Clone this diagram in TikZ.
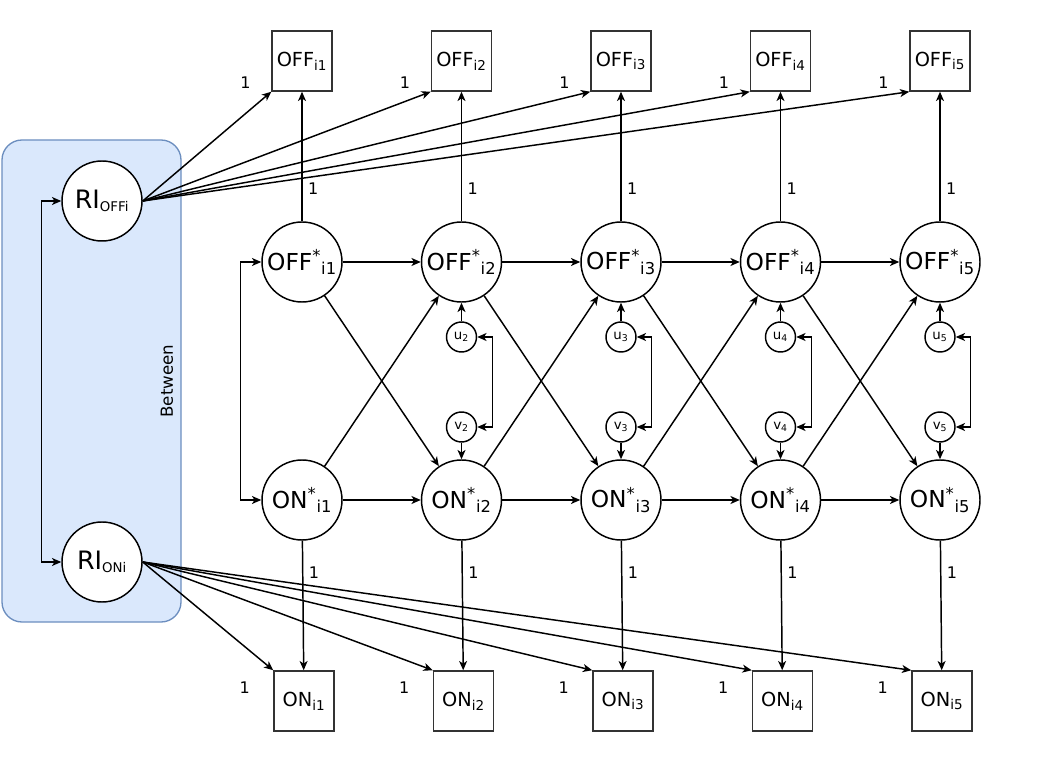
\documentclass[tikz,border=0pt]{standalone}
\usepackage{fontspec}
\setmainfont{DejaVu Sans}
\usetikzlibrary{arrows.meta}
\definecolor{betweenfill}{HTML}{DAE8FC}
\definecolor{betweendraw}{HTML}{6C8EBF}
\begin{document}
\begin{tikzpicture}[x=0.75pt,y=-0.75pt,
    >={Stealth[length=7pt,width=6pt,inset=2pt]},
    edge/.style={->,line width=1.1pt},
    latent/.style={circle,draw,line width=1.1pt,fill=white,minimum size=60pt,inner sep=0pt,font=\fontsize{17.5}{17.5}\selectfont},
    obs/.style={rectangle,draw=black!80,line width=1.1pt,fill=white,minimum size=45pt,inner sep=0pt,font=\fontsize{14.5}{14.5}\selectfont},
    resid/.style={circle,draw,line width=1.1pt,fill=white,minimum size=22.5pt,inner sep=0pt,font=\fontsize{10}{10}\selectfont},
    lbl/.style={inner sep=1pt,font=\fontsize{12}{12}\selectfont}]
    \useasboundingbox (0,0) rectangle (1042,762);

    \draw[draw=betweendraw,fill=betweenfill,rounded corners=15pt,line width=1pt] (2,140) rectangle (181,622);
    \node[rotate=90,font=\fontsize{12.5}{12.5}\selectfont] (between) at (167,381) {Between};

    \node[latent,font=\fontsize{19}{19}\selectfont] (rioff) at (102,201) {RI\textsubscript{\fontsize{10}{10}\selectfont OFFi}};
    \node[latent,font=\fontsize{19}{19}\selectfont] (rion) at (102,562) {RI\textsubscript{\fontsize{10}{10}\selectfont ONi}};

    \foreach \i in {1,...,5} {
      \pgfmathsetmacro{\xc}{302+159.5*(\i-1)}
      \node[obs] (offo\i) at (\xc,61) {OFF\textsubscript{i\i}};
      \node[obs] (ono\i) at (\xc+2,701) {ON\textsubscript{i\i}};
      \node[latent] (offs\i) at (\xc,262) {OFF\textsuperscript{*}\textsubscript{i\i}};
      \node[latent] (ons\i) at (\xc,500) {ON\textsuperscript{*}\textsubscript{i\i}};
    }
    \foreach \i in {2,...,5} {
      \pgfmathsetmacro{\xc}{302+159.5*(\i-1)}
      \node[resid] (u\i) at (\xc,337) {u\textsubscript{\i}};
      \node[resid] (v\i) at (\xc,427) {v\textsubscript{\i}};
    }

    \draw[<->,line width=1.1pt] (rioff.west) -- ++(-20,0) |- (rion.west);
    \draw[<->,line width=1.1pt] (offs1.west) -- ++(-21,0) |- (ons1.west);

    \foreach \i in {1,...,5} {
      \draw[edge] (offs\i) -- node[lbl,right=3pt,pos=0.25] {1} (offo\i);
      \draw[edge] (ons\i) -- node[lbl,right=3pt,pos=0.25] {1} (ono\i);
      \draw[edge] (rioff.east) -- (offo\i.south west) node[lbl,pos=1,anchor=south east,xshift=-14pt,yshift=1pt] {1};
      \draw[edge] (rion.east) -- (ono\i.north west) node[lbl,pos=1,anchor=north east,xshift=-16pt,yshift=-7pt] {1};
    }
    \foreach \i [evaluate=\i as \n using int(\i+1)] in {1,...,4} {
      \draw[edge] (offs\i) -- (offs\n);
      \draw[edge] (ons\i) -- (ons\n);
      \draw[edge] (offs\i) -- (ons\n);
      \draw[edge] (ons\i) -- (offs\n);
    }
    \foreach \i in {2,...,5} {
      \draw[edge] (u\i) -- (offs\i);
      \draw[edge] (v\i) -- (ons\i);
      \draw[<->,line width=1.1pt] (u\i.east) -- ++(15,0) |- (v\i.east);
    }
  \end{tikzpicture}
\end{document}
